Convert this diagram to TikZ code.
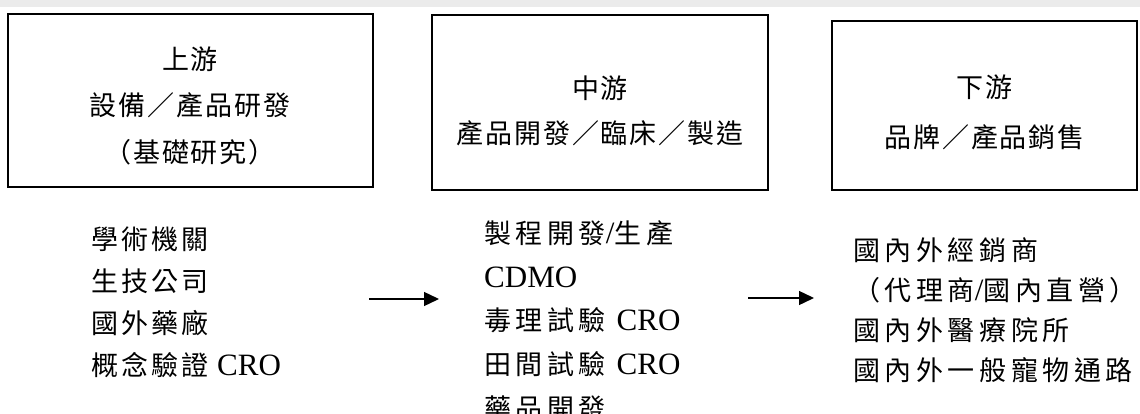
\documentclass[tikz,border=0pt]{standalone}
\usepackage{fontspec}
\setmainfont{Noto Sans CJK TC}
\newfontfamily\boxfont{Noto Sans CJK TC}[LetterSpace=7]
\newfontfamily\listfont{Noto Sans CJK TC}[LetterSpace=11]
\newfontfamily\listfontw{Noto Sans CJK TC}[LetterSpace=17]
\newfontfamily\lat{Liberation Serif}[Scale=1.15]
\usetikzlibrary{arrows.meta}
\begin{document}
\begin{tikzpicture}[x=1pt,y=-1pt,
  box/.style={draw,line width=1.6pt,inner sep=0pt},
  title/.style={align=center,inner sep=0pt,font=\boxfont\fontsize{27}{46.5}\selectfont},
  list/.style={align=left,anchor=west,inner sep=0pt,font=\listfont\fontsize{27}{42}\selectfont},
  flow/.style={line width=1.4pt,-{Triangle[length=15pt,width=14pt]}}]
\useasboundingbox (0,0) rectangle (1140,414);
\fill[black!8] (0,0) rectangle (1140,7);
% boxes
\node[box,minimum width=365pt,minimum height=173pt] (up) at (190.5,100.5) {};
\node[box,minimum width=336pt,minimum height=175pt] (mid) at (600,102.5) {};
\node[box,minimum width=305pt,minimum height=169pt] (down) at (984.5,105.5) {};
% titles
\node[title] (upT) at (190,105.5) {上游\\設備／產品研發\\（基礎研究）};
\node[title,font=\boxfont\fontsize{27}{45}\selectfont] (midT) at (600,110.5) {中游\\產品開發／臨床／製造};
\node[title,font=\boxfont\fontsize{27}{50}\selectfont] (downT) at (984.5,112) {下游\\品牌／產品銷售};
% lists
\node[list] (upL) at (91,302) {學術機關\\生技公司\\國外藥廠\\概念驗證 {\lat CRO}};
\node[list,font=\listfontw\fontsize{27}{43.75}\selectfont] (midL) at (484,320.5) {製程開發{\lat/}生產\\{\lat CDMO}\\毒理試驗 {\lat CRO}\\田間試驗 {\lat CRO}\\藥品開發};
\node[list,font=\listfontw\fontsize{27}{40}\selectfont] (downL) at (853,310) {國內外經銷商\\（代理商{\lat/}國內直營）\\國內外醫療院所\\國內外一般寵物通路};
% arrows
\coordinate (a1s) at (369,299);
\coordinate (a1e) at (439,299);
\coordinate (a2s) at (748,298);
\coordinate (a2e) at (814,298);
\draw[flow] (a1s) -- (a1e);
\draw[flow] (a2s) -- (a2e);
\end{tikzpicture}
\end{document}
